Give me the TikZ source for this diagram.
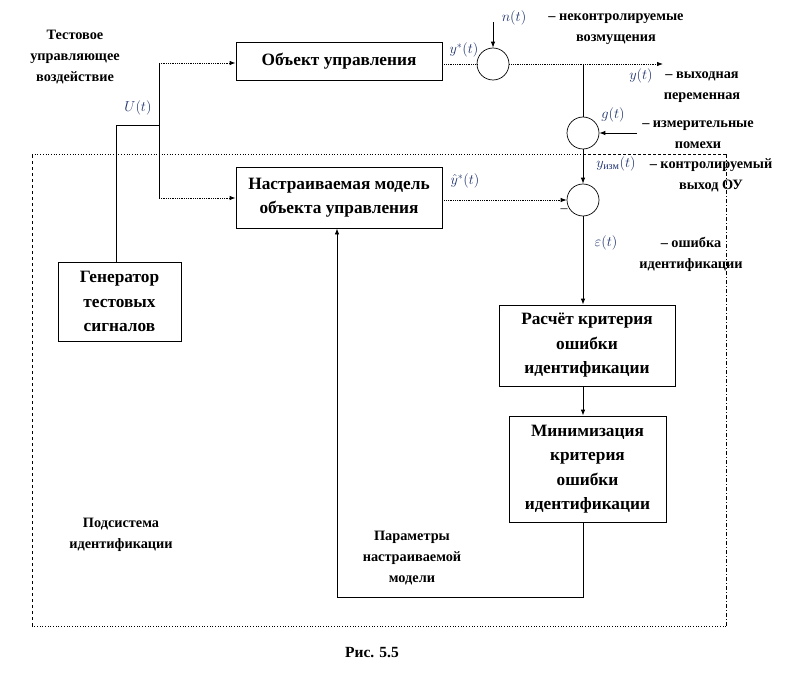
\documentclass[tikz,border=0pt]{standalone}
\usepackage{fontspec}
\setmainfont{Liberation Serif}
\usepackage{amsmath}
\usetikzlibrary{arrows.meta}
\definecolor{mathblue}{RGB}{30,50,110}
\begin{document}
\begin{tikzpicture}[x=1pt,y=-1pt,
  blk/.style={draw,line width=0.8pt,align=center,font=\fontsize{17.3}{24.5}\selectfont\bfseries,inner sep=0pt},
  ann/.style={align=center,font=\fontsize{14.3}{21}\selectfont\bfseries,inner sep=0pt},
  sig/.style={font=\fontsize{14.5}{16}\selectfont,text=mathblue,inner sep=0pt},
  sum/.style={draw,circle,minimum size=32pt,inner sep=0pt,line width=0.7pt},
  arr/.style={-{Latex[length=6pt,width=4.5pt]}},
  fine/.style={densely dotted,line width=0.8pt},
  wire/.style={line width=0.8pt},
  bord/.style={line width=0.7pt}]
\useasboundingbox (0,0) rectangle (790,674);

% blocks
\node[blk,minimum width=206pt,minimum height=38pt] (obj) at (339,61) {Объект управления};
\node[blk,minimum width=206pt,minimum height=61pt] (model) at (339,197.5) {Настраиваемая модель\\объекта управления};
\node[blk,minimum width=123pt,minimum height=79pt] (gen) at (119.5,301.5) {Генератор\\тестовых\\сигналов};
\node[blk,minimum width=176pt,minimum height=81pt] (crit) at (587,345.5) {Расчёт критерия\\ошибки\\идентификации};
\node[blk,minimum width=157pt,minimum height=106pt] (mini) at (587.5,469) {Минимизация\\критерия\\ошибки\\идентификации};

% summing circles
\node[sum] (s1) at (493,64) {};
\node[sum] (s2) at (583,133) {};
\node[sum] (s3) at (583,200) {};

% coordinates
\coordinate (gtop) at (116,125);
\coordinate (split) at (159,125);
\coordinate (bu) at (159,63);
\coordinate (bd) at (159,198);
\coordinate (nin) at (493,22);
\coordinate (out) at (663,64);
\coordinate (tap) at (583,64);
\coordinate (gin) at (637,133);
\coordinate (fbr) at (583,597);
\coordinate (fbl) at (337,597);

% connectors
\draw[wire] (gen.north -| gtop) -- (gtop) -- (split);
\draw[wire] (bu) -- (bd);
\draw[fine,arr] (bu) -- (bu -| obj.west);
\draw[fine,arr] (bd) -- (bd -| model.west);
\draw[fine] (obj.east |- s1) -- (s1.west);
\draw[wire,arr] (nin) -- (s1.north);
\draw[fine,arr] (s1.east) -- (out);
\draw[wire] (tap) -- (s2.north);
\draw[wire,arr] (gin) -- (s2.east);
\draw[wire,arr] (s2.south) -- (s3.north);
\draw[fine,arr] (model.east |- s3) -- (s3.west);
\draw[wire,arr] (s3.south) -- (s3.south |- crit.north);
\draw[wire,arr] (s3 |- crit.south) -- (s3 |- mini.north);
\draw[wire,arr] (s3 |- mini.south) -- (fbr) -- (fbl) -- (fbl |- model.south);

% subsystem boundary
\coordinate (bTL) at (32,154);
\coordinate (bTM) at (583,154);
\coordinate (bTR) at (726,154);
\coordinate (bBR) at (726,626);
\coordinate (bBL) at (32,626);
\draw[bord,dotted] (bTL) -- (bTM);
\draw[bord,dash pattern=on 3pt off 2pt] (bTM) -- (bTR);
\draw[bord,dash pattern=on 4pt off 2pt on 1pt off 2pt] (bTR) -- (bBR);
\draw[bord,dotted] (bBR) -- (bBL);
\draw[bord,dash pattern=on 3pt off 3pt] (bBL) -- (bTL);

% labels
\node[ann] (tlab) at (75,57) {Тестовое\\управляющее\\воздействие};
\node[sig] (Ulab) at (138,108) {$U(t)$};
\node[sig] (ystar) at (464,50) {$y^*(t)$};
\node[sig] (nlab) at (514,18) {$n(t)$};
\node[ann] (nann) at (616,29) {– неконтролируемые\\возмущения};
\node[sig] (ylab) at (641,76) {$y(t)$};
\node[ann] (yann) at (702,87) {– выходная\\переменная};
\node[sig] (glab) at (613,115) {$g(t)$};
\node[ann] (gann) at (698,135) {– измерительные\\помехи};
\node[sig] (yizm) at (616,164) {$y_{\text{изм}}(t)$};
\node[ann] (yizmann) at (711,175) {– контролируемый\\выход ОУ};
\node[sig] (yhat) at (465,181) {$\hat{y}^*(t)$};
\node[font=\fontsize{14}{16}\selectfont,inner sep=0pt] (minus) at (564,211) {–};
\node[sig] (eps) at (606,243) {$\varepsilon(t)$};
\node[ann] (epsann) at (691,254) {– ошибка\\идентификации};
\node[ann] (sub) at (121,535) {Подсистема\\идентификации};
\node[ann] (par) at (412,558) {Параметры\\настраиваемой\\модели};
\node[font=\fontsize{15.5}{18}\selectfont\bfseries,inner sep=0pt] (cap) at (372,653) {Рис. 5.5};
\end{tikzpicture}
\end{document}
